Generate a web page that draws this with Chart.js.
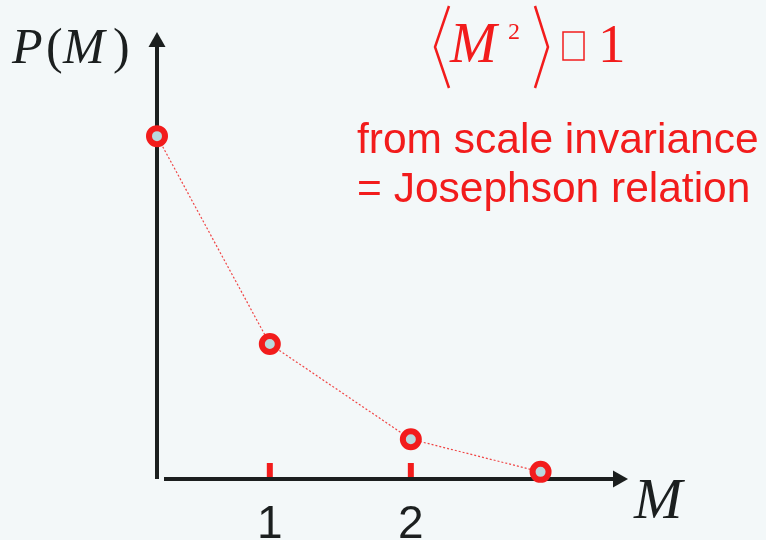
<!DOCTYPE html>
<html>
<head>
<meta charset="utf-8">
<script src="https://cdn.jsdelivr.net/npm/chart.js@4"></script>
<style>
  html, body { margin: 0; padding: 0; background: #f3f8f9; }
  canvas { display: block; }
</style>
</head>
<body>
<canvas id="chart" width="766" height="540"></canvas>
<script>
// P(M) against M, decaying sketch
const mValues = [0.2, 1, 2, 2.92];
const pValues = [0.767, 0.302, 0.089, 0.016];
const tickValues = [1, 2];
const tickLabels = ["1", "2"];

const RED = "#f21c1c";
const INK = "#1b1f1f";

// axes with arrow heads, red tick marks and labels
const axesPlugin = {
  id: "axes",
  beforeDraw(chart) {
    const ctx = chart.ctx;
    ctx.save();
    ctx.fillStyle = "#f3f8f9";
    ctx.fillRect(0, 0, chart.width, chart.height);
    ctx.restore();
  },
  beforeDatasetsDraw(chart) {
    const { ctx, chartArea } = chart;
    const { left, right, top, bottom } = chartArea;
    const xs = chart.scales.x;
    ctx.save();
    ctx.strokeStyle = INK;
    ctx.fillStyle = INK;
    ctx.lineWidth = 4;

    // vertical axis
    ctx.beginPath();
    ctx.moveTo(left, bottom);
    ctx.lineTo(left, top + 14);
    ctx.stroke();
    ctx.beginPath();
    ctx.moveTo(left, top);
    ctx.lineTo(left - 8.5, top + 15);
    ctx.lineTo(left + 8.5, top + 15);
    ctx.closePath();
    ctx.fill();

    // horizontal axis
    ctx.beginPath();
    ctx.moveTo(left + 7, bottom);
    ctx.lineTo(right - 14, bottom);
    ctx.stroke();
    ctx.beginPath();
    ctx.moveTo(right, bottom);
    ctx.lineTo(right - 15, bottom - 8.5);
    ctx.lineTo(right - 15, bottom + 8.5);
    ctx.closePath();
    ctx.fill();

    // tick marks and labels
    ctx.font = "46px 'Liberation Sans', Arial, sans-serif";
    ctx.textAlign = "center";
    ctx.textBaseline = "alphabetic";
    tickValues.forEach((v, i) => {
      const px = xs.getPixelForValue(v);
      ctx.fillStyle = RED;
      ctx.fillRect(px - 3, bottom - 16, 6, 14);
      ctx.fillStyle = INK;
      ctx.fillText(tickLabels[i], px, 538);
    });
    ctx.restore();
  },
  afterDraw(chart) {
    const ctx = chart.ctx;
    ctx.save();
    ctx.textBaseline = "alphabetic";
    ctx.textAlign = "left";

    // P(M) axis title
    ctx.fillStyle = INK;
    ctx.font = "italic 50px 'Liberation Serif', 'Times New Roman', serif";
    ctx.fillText("P", 12, 63);
    ctx.fillText("M", 63, 63);
    ctx.font = "50px 'Liberation Serif', 'Times New Roman', serif";
    ctx.fillText("(", 46, 63);
    ctx.fillText(")", 113, 63);

    // M axis title
    ctx.font = "italic 58px 'Liberation Serif', 'Times New Roman', serif";
    ctx.fillText("M", 634, 518);

    // <M^2> box 1
    ctx.fillStyle = RED;
    ctx.strokeStyle = RED;
    ctx.lineWidth = 2.5;
    ctx.beginPath();
    ctx.moveTo(449, 6);
    ctx.lineTo(435, 47);
    ctx.lineTo(449, 88);
    ctx.moveTo(535, 6);
    ctx.lineTo(548, 47);
    ctx.lineTo(535, 88);
    ctx.stroke();
    ctx.font = "italic 56px 'Liberation Serif', 'Times New Roman', serif";
    ctx.fillText("M", 450, 62);
    ctx.font = "24px 'Liberation Serif', 'Times New Roman', serif";
    ctx.fillText("2", 508, 39);
    ctx.lineWidth = 1.5;
    ctx.strokeRect(563, 32, 21, 28);
    ctx.font = "55px 'Liberation Serif', 'Times New Roman', serif";
    ctx.fillText("1", 598, 62);

    ctx.font = "42.5px 'Liberation Sans', Arial, sans-serif";
    ctx.fillText("from scale invariance", 357, 153);
    ctx.fillText("= Josephson relation", 357, 202);
    ctx.restore();
  },
};

new Chart(document.getElementById("chart"), {
  type: "scatter",
  data: {
    datasets: [
      {
        data: mValues.map((m, i) => ({ x: m, y: pValues[i] })),
        showLine: true,
        borderColor: "#f04545",
        borderWidth: 1.2,
        borderDash: [2, 2],
        pointRadius: 8,
        pointBorderWidth: 6,
        pointBorderColor: RED,
        pointBackgroundColor: "#b9d9dd",
        clip: false,
      },
    ],
  },
  options: {
    responsive: false,
    animation: false,
    layout: {
      padding: { left: 157, right: 138, top: 32, bottom: 61 },
    },
    scales: {
      x: { type: "linear", min: 0.2, max: 3.54, display: false },
      y: { type: "linear", min: 0, max: 1, display: false },
    },
    plugins: {
      legend: { display: false },
      tooltip: { enabled: false },
    },
  },
  plugins: [axesPlugin],
});
</script>
</body>
</html>
